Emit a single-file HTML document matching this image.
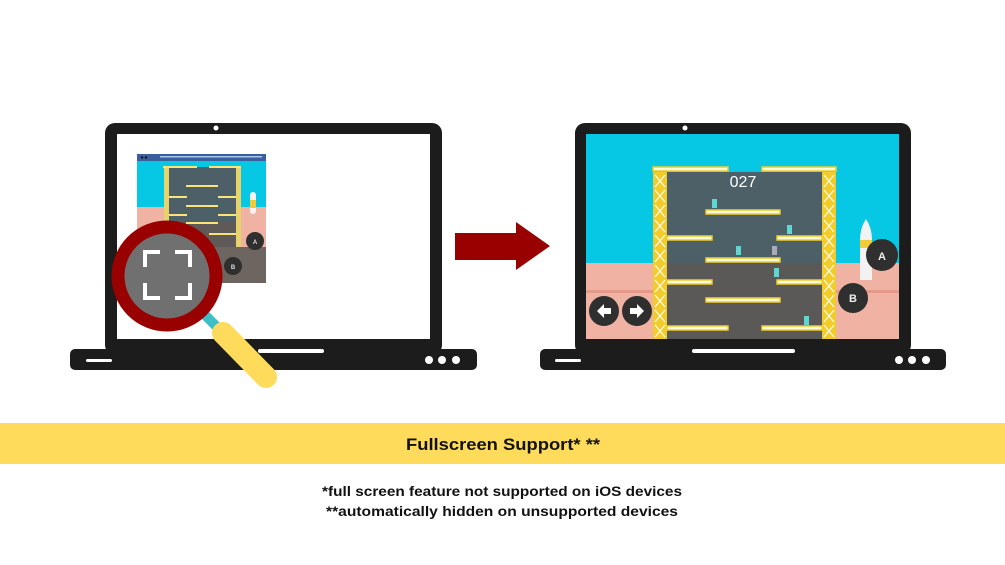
<!DOCTYPE html>
<html><head><meta charset="utf-8"><style>
html,body{margin:0;padding:0;background:#fff;width:1005px;height:565px;overflow:hidden}
svg{display:block}
</style></head><body>
<svg width="1005" height="565" viewBox="0 0 1005 565" xmlns="http://www.w3.org/2000/svg" font-family="Liberation Sans, sans-serif">
<!-- LEFT LAPTOP -->
<rect x="105" y="123" width="337" height="232" rx="10" fill="#1c1c1c"/>
<rect x="117" y="134" width="313" height="205" fill="#fff"/>
<circle cx="216" cy="128" r="2.5" fill="#fff"/>
<rect x="70" y="349" width="407" height="21" rx="5" fill="#1c1c1c"/>
<rect x="258" y="349" width="66" height="4" rx="2" fill="#fff"/>
<rect x="86" y="359" width="26" height="3" rx="1.5" fill="#fff"/>
<circle cx="429" cy="360" r="4" fill="#fff"/><circle cx="442" cy="360" r="4" fill="#fff"/><circle cx="456" cy="360" r="4" fill="#fff"/>
<!-- left game -->
<rect x="137" y="154" width="129" height="129" fill="#6d6560"/>
<rect x="137" y="154" width="129" height="7" fill="#3b5f9a"/>
<rect x="160" y="156" width="102" height="1.5" fill="#a9c7e8"/>
<circle cx="142" cy="157.5" r="1.2" fill="#111"/><circle cx="146" cy="157.5" r="1.2" fill="#111"/>
<rect x="137" y="161" width="129" height="46" fill="#07c8e4"/>
<rect x="137" y="207" width="129" height="40" fill="#f0b3a3"/>
<rect x="164" y="167" width="77" height="80" fill="#4d6068"/>
<rect x="164" y="222" width="77" height="25" fill="#5f5a58"/>
<rect x="164" y="167" width="5" height="80" fill="#e8d36a"/>
<rect x="236" y="167" width="5" height="80" fill="#e8d36a"/>
<rect x="163" y="166" width="34" height="2" fill="#fbe37a"/><rect x="209" y="166" width="32" height="2" fill="#fbe37a"/>
<g fill="#fbe37a"><rect x="186" y="185" width="32" height="2"/><rect x="169" y="196" width="18" height="2"/><rect x="218" y="196" width="18" height="2"/><rect x="186" y="205" width="32" height="2"/><rect x="169" y="214" width="18" height="2"/><rect x="218" y="214" width="18" height="2"/><rect x="186" y="222" width="32" height="2"/><rect x="209" y="233" width="27" height="2"/></g>
<rect x="250" y="192" width="6" height="22" rx="3" fill="#f3f3f3"/><rect x="250" y="200" width="6" height="8" fill="#f1cc3a"/>
<circle cx="255" cy="241" r="9" fill="#2f2f2f"/><text x="255" y="244" font-size="6" fill="#ddd" text-anchor="middle" font-weight="bold">A</text>
<circle cx="233" cy="266" r="9" fill="#2f2f2f"/><text x="233" y="269" font-size="6" fill="#ddd" text-anchor="middle" font-weight="bold">B</text>
<!-- magnifier -->
<line x1="200" y1="310" x2="222" y2="332" stroke="#3cbfc6" stroke-width="10"/>
<line x1="223" y1="333" x2="266" y2="377" stroke="#fedb5b" stroke-width="22" stroke-linecap="round"/>
<circle cx="167" cy="276" r="49" fill="#707070" stroke="#990000" stroke-width="13"/>
<g stroke="#fff" stroke-width="4" fill="none">
<path d="M145 267 V252 H160"/><path d="M175 252 H190 V267"/><path d="M145 283 V298 H160"/><path d="M175 298 H190 V283"/>
</g>
<!-- ARROW -->
<polygon points="455,233 516,233 516,222 550,246 516,270 516,260 455,260" fill="#990000"/>
<!-- RIGHT LAPTOP -->
<rect x="575" y="123" width="336" height="232" rx="10" fill="#1c1c1c"/>
<circle cx="685" cy="128" r="2.5" fill="#fff"/>
<rect x="586" y="134" width="313" height="205" fill="#07c8e4"/>
<rect x="586" y="263" width="313" height="76" fill="#f0b3a3"/>
<rect x="586" y="290" width="67" height="3" fill="#e39a88"/><rect x="836" y="290" width="63" height="3" fill="#e39a88"/>
<rect x="653" y="172" width="183" height="167" fill="#4d6068"/>
<rect x="667" y="263" width="155" height="76" fill="#5b5858"/>
<g fill="#f2cc2b"><rect x="653" y="172" width="14" height="167"/><rect x="822" y="172" width="14" height="167"/></g>
<g stroke="#fff" stroke-width="1.3" opacity="0.9">
<path d="M655 175 L665 187 M665 175 L655 187 M655 190 L665 202 M665 190 L655 202 M655 205 L665 217 M665 205 L655 217 M655 220 L665 232 M665 220 L655 232 M655 235 L665 247 M665 235 L655 247 M655 250 L665 262 M665 250 L655 262 M655 265 L665 277 M665 265 L655 277 M655 280 L665 292 M665 280 L655 292 M655 295 L665 307 M665 295 L655 307 M655 310 L665 322 M665 310 L655 322 M655 325 L665 337 M665 325 L655 337"/>
<path d="M824 175 L834 187 M834 175 L824 187 M824 190 L834 202 M834 190 L824 202 M824 205 L834 217 M834 205 L824 217 M824 220 L834 232 M834 220 L824 232 M824 235 L834 247 M834 235 L824 247 M824 250 L834 262 M834 250 L824 262 M824 265 L834 277 M834 265 L824 277 M824 280 L834 292 M834 280 L824 292 M824 295 L834 307 M834 295 L824 307 M824 310 L834 322 M834 310 L824 322 M824 325 L834 337 M834 325 L824 337"/>
</g>
<g fill="#fffbe0" stroke="#f1cc2a" stroke-width="1.5">
<rect x="653" y="167" width="75" height="4"/><rect x="762" y="167" width="74" height="4"/>
<rect x="706" y="210" width="74" height="4"/>
<rect x="667" y="236" width="45" height="4"/><rect x="777" y="236" width="45" height="4"/>
<rect x="706" y="258" width="74" height="4"/>
<rect x="667" y="280" width="45" height="4"/><rect x="777" y="280" width="45" height="4"/>
<rect x="706" y="298" width="74" height="4"/>
<rect x="667" y="326" width="61" height="4"/><rect x="762" y="326" width="60" height="4"/>
</g>
<text x="743" y="187" font-size="16" fill="#fff" text-anchor="middle">027</text>
<g fill="#5fd6cf"><rect x="712" y="199" width="5" height="9"/><rect x="787" y="225" width="5" height="9"/><rect x="736" y="246" width="5" height="9"/><rect x="772" y="246" width="5" height="9" fill="#aab"/><rect x="774" y="268" width="5" height="9"/><rect x="804" y="316" width="5" height="9"/></g>
<!-- rocket -->
<path d="M866 219 Q872 228 872 240 L872 280 L860 280 L860 240 Q860 228 866 219Z" fill="#f2f2f2"/>
<rect x="860" y="240" width="12" height="8" fill="#f1cc3a"/>
<circle cx="882" cy="255" r="16" fill="#2f2f2f"/><text x="882" y="260" font-size="11" fill="#eee" text-anchor="middle" font-weight="bold">A</text>
<circle cx="853" cy="298" r="15" fill="#2f2f2f"/><text x="853" y="302" font-size="11" fill="#eee" text-anchor="middle" font-weight="bold">B</text>
<circle cx="604" cy="311" r="15" fill="#2f2f2f"/><circle cx="637" cy="311" r="15" fill="#2f2f2f"/>
<polygon points="597,311 604,304 604,308 611,308 611,314 604,314 604,318" fill="#fff"/>
<polygon points="644,311 637,304 637,308 630,308 630,314 637,314 637,318" fill="#fff"/>
<rect x="540" y="349" width="406" height="21" rx="5" fill="#1c1c1c"/>
<rect x="692" y="349" width="103" height="4" rx="2" fill="#fff"/>
<rect x="555" y="359" width="26" height="3" rx="1.5" fill="#fff"/>
<circle cx="899" cy="360" r="4" fill="#fff"/><circle cx="912" cy="360" r="4" fill="#fff"/><circle cx="926" cy="360" r="4" fill="#fff"/>
<!-- BAND -->
<rect x="0" y="423" width="1005" height="41" fill="#fedb5b"/>
<text x="503" y="450" font-size="17" font-weight="bold" fill="#111" text-anchor="middle" textLength="194" lengthAdjust="spacingAndGlyphs">Fullscreen Support* **</text>
<text x="502" y="496" font-size="14" font-weight="bold" fill="#111" text-anchor="middle" textLength="360" lengthAdjust="spacingAndGlyphs">*full screen feature not supported on iOS devices</text>
<text x="502" y="516" font-size="14" font-weight="bold" fill="#111" text-anchor="middle" textLength="352" lengthAdjust="spacingAndGlyphs">**automatically hidden on unsupported devices</text>
</svg>
</body></html>
